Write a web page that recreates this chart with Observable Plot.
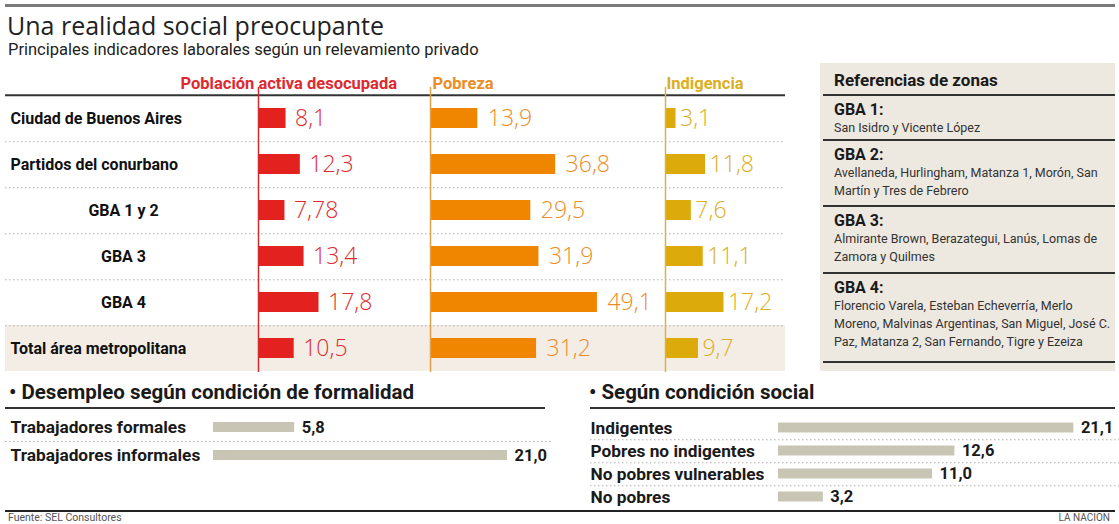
<!DOCTYPE html>
<html><head><meta charset="utf-8">
<script src="https://cdn.jsdelivr.net/npm/d3@7"></script>
<script src="https://cdn.jsdelivr.net/npm/@observablehq/plot@0.6"></script>
<style>
body{margin:0;background:#fff;}
#wrap{position:relative;width:1119px;height:524px;overflow:hidden;font-family:Roboto,sans-serif;color:#1a1a1a;}
.abs{position:absolute;white-space:nowrap;}
#wrap svg{position:absolute;background:transparent;}
.panel-line{position:absolute;left:3px;right:0;height:2px;background:#333;}
</style></head><body><div id="wrap"></div>
<script>
// ---- data ----
const rows = ["Ciudad de Buenos Aires","Partidos del conurbano","GBA 1 y 2","GBA 3","GBA 4","Total área metropolitana"];
const mainRows = ["Ciudad de Buenos Aires","Partidos del conurbano","Total área metropolitana"];
const subRows = ["GBA 1 y 2","GBA 3","GBA 4"];
const totalRow = "Total área metropolitana";
const indicators = ["Población activa desocupada","Pobreza","Indigencia"];
const desocupada = [8.1,12.3,7.78,13.4,17.8,10.5];
const pobreza = [13.9,36.8,29.5,31.9,49.1,31.2];
const indigencia = [3.1,11.8,7.6,11.1,17.2,9.7];
const formalidad = ["Trabajadores formales","Trabajadores informales"];
const formalidadValues = [5.8,21.0];
const condicion = ["Indigentes","Pobres no indigentes","No pobres vulnerables","No pobres"];
const condicionValues = [21.1,12.6,11.0,3.2];
const zonas = ["GBA 1:","GBA 2:","GBA 3:","GBA 4:"];
const zonasLines = [
  ["San Isidro y Vicente López"],
  ["Avellaneda, Hurlingham, Matanza 1, Morón, San","Martín y Tres de Febrero"],
  ["Almirante Brown, Berazategui, Lanús, Lomas de","Zamora y Quilmes"],
  ["Florencio Varela, Esteban Echeverría, Merlo","Moreno, Malvinas Argentinas, San Miguel, José C.","Paz, Matanza 2, San Fernando, Tigre y Ezeiza"]
];

const fmt = v => (Number.isInteger(v) ? v.toFixed(1) : String(v)).replace(".", ",");
const wrap = document.getElementById("wrap");
function place(node, left, top){ node.style.left = left+"px"; node.style.top = top+"px"; wrap.appendChild(node); return node; }
function html(tag, css, text){ const n=document.createElement(tag); n.className="abs"; n.style.cssText=css; if(text!=null) n.textContent=text; wrap.appendChild(n); return n; }

// ---- header texts ----
html("div","left:5px;top:4px;width:1110px;height:3px;background:#7a7a7a;");
html("div","left:7px;top:11px;font-family:'Open Sans',sans-serif;font-size:25px;line-height:28px;color:#222;","Una realidad social preocupante");
html("div","left:8px;top:41px;font-size:16.5px;line-height:18px;color:#222;","Principales indicadores laborales según un relevamiento privado");

// ---- main chart ----
const W = 1119, mainTop = 60, mainH = 315, mainMT = 33, mainMB = 3;
const bw = (mainH - mainMT - mainMB) / rows.length;
const base = Plot.plot({
  width: W, height: mainH, marginTop: mainMT, marginBottom: mainMB, marginLeft: 5, marginRight: 334,
  style: {fontFamily: "Roboto, sans-serif", background: "transparent"},
  x: {domain: [0, 1], axis: null},
  y: {domain: rows, axis: null, padding: 0},
  marks: [
    Plot.barX([totalRow], {y: d => d, x1: 0, x2: 1, fill: "#f3ede6"}),
    Plot.ruleY(rows.slice(0, -1), {y: d => d, dy: bw / 2, stroke: "#b0b0b0", strokeDasharray: "1.5,2.5"}),
    Plot.ruleY([rows[0]], {y: d => d, dy: -bw / 2, stroke: "#333", strokeWidth: 2}),
    Plot.text(mainRows, {y: d => d, frameAnchor: "left", dx: 5, textAnchor: "start", fontWeight: "bold", fontSize: 16, fill: "#111"}),
    Plot.text(subRows, {y: d => d, frameAnchor: "left", dx: 118, textAnchor: "middle", fontWeight: "bold", fontSize: 16, fill: "#111"})
  ]
});
place(base, 0, mainTop);

const k = 3.4, xMax = 60;
function columnPlot(values, name, axisX, barColor, ruleColor, textColor, headerDx, labelDx){
  const data = rows.map((r, i) => ({row: r, value: values[i]}));
  return Plot.plot({
    width: W, height: mainH, marginTop: mainMT, marginBottom: mainMB,
    marginLeft: axisX, marginRight: W - axisX - k * xMax,
    style: {fontFamily: "Roboto, sans-serif", background: "transparent"},
    x: {domain: [0, xMax], axis: null},
    y: {domain: rows, axis: null, padding: 0},
    marks: [
      Plot.barX(data, {y: "row", x: "value", fill: barColor, insetTop: 13, insetBottom: 13}),
      Plot.ruleX([0], {stroke: ruleColor, strokeWidth: 1.5, insetTop: -6}),
      Plot.text(data, {y: "row", x: "value", text: d => fmt(d.value), dx: labelDx, textAnchor: "start",
        fill: textColor, fontSize: 23, fontWeight: 300, fontFamily: "'Open Sans', sans-serif"}),
      Plot.text([name], {frameAnchor: "top-left", dx: headerDx, dy: -5, lineAnchor: "bottom",
        fill: textColor, fontWeight: "bold", fontSize: 16.5})
    ]
  });
}
place(columnPlot(desocupada, indicators[0], 258, "#e3211f", "#d42a2e", "#dd2a30", -78, 9), 0, mainTop);
place(columnPlot(pobreza, indicators[1], 430, "#f08600", "#e3a04a", "#ec8c26", 2, 10), 0, mainTop);
place(columnPlot(indigencia, indicators[2], 665, "#dcaa0a", "#d9b24a", "#dcae22", 1, 4), 0, mainTop);

// ---- right panel ----
const panel = html("div","left:820px;top:63px;width:295px;height:308px;background:#ede8e0;");
const pTitle = document.createElement("div");
pTitle.style.cssText = "position:absolute;left:14px;top:7px;font-weight:bold;font-size:17px;line-height:20px;";
pTitle.textContent = "Referencias de zonas";
panel.appendChild(pTitle);
const lineYs = [31, 76, 142, 209, 298];
lineYs.forEach(y => { const l = document.createElement("div"); l.className = "panel-line"; l.style.top = y + "px"; panel.appendChild(l); });
zonas.forEach((z, i) => {
  const top = lineYs[i] + 7;
  const h = document.createElement("div");
  h.style.cssText = `position:absolute;left:14px;top:${top}px;font-weight:bold;font-size:16px;line-height:18px;`;
  h.textContent = z; panel.appendChild(h);
  zonasLines[i].forEach((t, j) => {
    const d = document.createElement("div");
    d.style.cssText = `position:absolute;left:14px;top:${top + 18 + j * 18}px;font-size:12.5px;line-height:18px;color:#333;white-space:nowrap;`;
    d.textContent = t; panel.appendChild(d);
  });
});

// ---- bottom sections ----
html("div","left:9px;top:380px;font-weight:bold;font-size:20.5px;line-height:24px;","• Desempleo según condición de formalidad");
html("div","left:5px;top:407px;width:540px;height:2px;background:#333;");
html("div","left:589px;top:380px;font-weight:bold;font-size:20.5px;line-height:24px;","• Según condición social");
html("div","left:590px;top:407px;width:525px;height:2px;background:#333;");

const kb = 14, xbMax = 22;
function smallPlot(cats, vals, w, h, ml, mt, mb, lineLeft, lineRight, barInset){
  const data = cats.map((c, i) => ({cat: c, value: vals[i]}));
  const bwb = (h - mt - mb) / cats.length;
  return Plot.plot({
    width: w, height: h, marginTop: mt, marginBottom: mb, marginLeft: ml, marginRight: w - ml - kb * xbMax,
    style: {fontFamily: "Roboto, sans-serif", background: "transparent"},
    x: {domain: [0, xbMax], axis: null},
    y: {domain: cats, axis: null, padding: 0},
    marks: [
      Plot.ruleY(cats.slice(0, -1), {y: d => d, dy: bwb / 2, stroke: "#b0b0b0", strokeDasharray: "1.5,2.5", insetLeft: lineLeft, insetRight: lineRight}),
      Plot.barX(data, {y: "cat", x: "value", fill: "#c9c5b5", insetTop: barInset, insetBottom: barInset}),
      Plot.text(data, {y: "cat", x: "value", text: d => fmt(d.value), dx: 7, textAnchor: "start", fontWeight: "bold", fontSize: 16.5, fill: "#1a1a1a"}),
      Plot.text(cats, {y: d => d, frameAnchor: "left", dx: 10 - ml, textAnchor: "start", fontWeight: "bold", fontSize: 17.3, fill: "#1a1a1a"})
    ]
  });
}
place(smallPlot(formalidad, formalidadValues, 560, 62, 213, 3, 3, -208, -31, 9), 0, 410);
place(smallPlot(condicion, condicionValues, 539, 97, 198, 3, 0, -188, -46, 6.5), 580, 412);

// ---- footer ----
html("div","left:5px;top:510px;width:1110px;height:2px;background:#222;");
html("div","left:8px;top:512px;font-size:10.5px;line-height:11px;color:#555;","Fuente: SEL Consultores");
html("div","right:9px;top:512px;font-size:10px;line-height:11px;color:#555;","LA NACION");
</script></body></html>
